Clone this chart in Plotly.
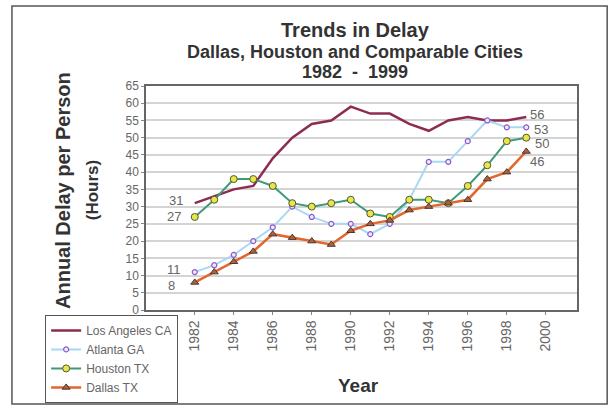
import plotly.graph_objects as go

# Annual delay per person (hours), 1982-1999
years = list(range(1982, 2000))
los_angeles = [31, 33, 35, 36, 44, 50, 54, 55, 59, 57, 57, 54, 52, 55, 56, 55, 55, 56]
atlanta = [11, 13, 16, 20, 24, 30, 27, 25, 25, 22, 25, 32, 43, 43, 49, 55, 53, 53]
houston = [27, 32, 38, 38, 36, 31, 30, 31, 32, 28, 27, 32, 32, 31, 36, 42, 49, 50]
dallas = [8, 11, 14, 17, 22, 21, 20, 19, 23, 25, 26, 29, 30, 31, 32, 38, 40, 46]

y_ticks = list(range(0, 70, 5))
x_ticks = list(range(1982, 2001, 2))

fig = go.Figure()

fig.add_trace(go.Scatter(
    x=years, y=los_angeles, name="Los Angeles CA", mode="lines",
    line=dict(color="#8e2b52", width=2.5)))
fig.add_trace(go.Scatter(
    x=years, y=atlanta, name="Atlanta GA", mode="lines+markers",
    line=dict(color="#a8d8f4", width=2),
    marker=dict(symbol="circle", size=5, color="#f0e8ff",
                line=dict(color="#8a5cc8", width=1.2))))
fig.add_trace(go.Scatter(
    x=years, y=houston, name="Houston TX", mode="lines+markers",
    line=dict(color="#3f9a78", width=2),
    marker=dict(symbol="circle", size=7, color="#e6e84a",
                line=dict(color="#555533", width=1))))
fig.add_trace(go.Scatter(
    x=years, y=dallas, name="Dallas TX", mode="lines+markers",
    line=dict(color="#e2662e", width=2.5),
    marker=dict(symbol="triangle-up", size=7, color="#a0664a",
                line=dict(color="#5a3322", width=1))))

# data labels at both ends of the series
label_font = dict(family="Liberation Sans, Arial", size=13, color="#666666")
starts = [(los_angeles[0], -10, 3), (houston[0], -12, 0),
          (atlanta[0], -12, 3), (dallas[0], -18, -3)]
for val, xsh, ysh in starts:
    fig.add_annotation(x=years[0], y=val, text=str(val), showarrow=False,
                       xanchor="right", xshift=xsh, yshift=ysh, font=label_font)
ends = [(los_angeles[-1], 2, 3), (atlanta[-1], 6, -2),
        (houston[-1], 7, -6), (dallas[-1], 2, -10)]
for val, xsh, ysh in ends:
    fig.add_annotation(x=years[-1], y=val, text=str(val), showarrow=False,
                       xanchor="left", xshift=xsh, yshift=ysh, font=label_font)

# titles as paper annotations
title_color = "#333333"
titles = [
    ("<b>Trends in Delay</b>", 0.485, 1.25, 0, 20),
    ("<b>Dallas, Houston and Comparable Cities</b>", 0.485, 1.152, 0, 18),
    ("<b>1982  -  1999</b>", 0.485, 1.063, 0, 18),
    ("<b>Annual Delay per Person</b>", -0.193, 0.535, -90, 20),
    ("<b>(Hours)</b>", -0.125, 0.535, -90, 17),
    ("<b>Year</b>", 0.492, -0.335, 0, 19),
]
for text, tx, ty, angle, size in titles:
    fig.add_annotation(text=text, xref="paper", yref="paper", x=tx, y=ty,
                       xanchor="center", yanchor="middle", textangle=angle,
                       showarrow=False, font=dict(size=size, color=title_color))

# outer frame
fig.add_shape(type="rect", xref="paper", yref="paper",
              x0=-0.311, x1=1.07, y0=-0.42, y1=1.357,
              line=dict(color="#555555", width=1.5))

fig.update_layout(
    width=615, height=407,
    margin=dict(l=146, r=38, t=86, b=97, autoexpand=False),
    paper_bgcolor="white", plot_bgcolor="white",
    font=dict(family="Liberation Sans, Arial", color="#555555"),
    xaxis=dict(
        range=[1979.5, 2001.6], tickmode="array",
        tickvals=x_ticks, ticktext=[str(v) for v in x_ticks],
        tickangle=-90, ticks="outside", ticklen=3, tickcolor="#888888",
        tickfont=dict(size=14, color="#666666"),
        showgrid=False, zeroline=False, automargin=False,
        showline=True, linecolor="#666666", linewidth=1.5, mirror=True),
    yaxis=dict(
        range=[0, 65], tickvals=y_ticks,
        ticks="outside", ticklen=3, tickcolor="#888888",
        tickfont=dict(size=12, color="#666666"),
        showgrid=True, gridcolor="#d4d4d4", gridwidth=1.5, zeroline=False,
        automargin=False,
        showline=True, linecolor="#666666", linewidth=1.5, mirror=True),
    legend=dict(
        x=-0.234, y=-0.022, xanchor="left", yanchor="top",
        bordercolor="#555555", borderwidth=1, bgcolor="white",
        font=dict(size=12, color="#666666"), tracegroupgap=0,
        itemwidth=30),
    showlegend=True,
)

# page body has a default 8px margin; drop it so the figure sits at the corner
fig.write_html("out.html", config={"displayModeBar": False},
               post_script="document.body.style.margin='0px';")
